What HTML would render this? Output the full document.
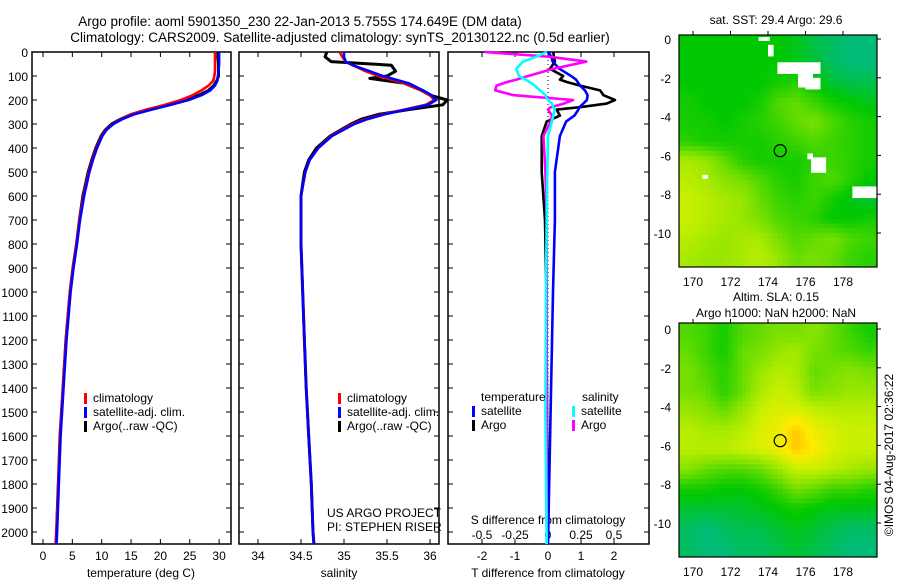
<!DOCTYPE html>
<html><head><meta charset="utf-8">
<style>
body{margin:0;background:#fff;}
svg{display:block;font-family:"Liberation Sans",sans-serif;}
</style></head>
<body>
<svg id="c" width="900" height="580" viewBox="0 0 900 580">
<text x="300" y="26" font-size="13.5" text-anchor="middle">Argo profile: aoml 5901350_230 22-Jan-2013 5.755S 174.649E (DM data)</text>
<text x="340" y="42" font-size="13.5" text-anchor="middle">Climatology: CARS2009. Satellite-adjusted climatology: synTS_20130122.nc (0.5d earlier)</text>
<text x="776" y="24" font-size="12" text-anchor="middle">sat. SST: 29.4 Argo: 29.6</text>
<text x="776" y="301" font-size="12" text-anchor="middle">Altim. SLA: 0.15</text>
<text x="776" y="317" font-size="12" text-anchor="middle">Argo h1000: NaN h2000: NaN</text>
<text transform="translate(893,455) rotate(-90)" font-size="12" text-anchor="middle">©IMOS 04-Aug-2017 02:36:22</text>
</svg>
<script>
// ---- Temperature profiles ----
const tDepth=[0,20,50,80,100,120,140,160,180,200,220,240,260,280,300,325,350,400,450,500,600,700,800,900,1000,1200,1400,1600,1800,2000,2050];
const tClim=[29.3,29.3,29.3,29.3,29.2,29.0,28.2,27.0,25.5,23.5,20.8,17.7,15.0,13.3,11.9,10.7,10.0,9.1,8.4,7.8,6.9,6.2,5.7,5.1,4.6,3.9,3.4,2.9,2.6,2.3,2.2];
const tSat=[30,30,30,29.9,29.8,29.7,29.3,28.5,27.0,24.8,21.8,18.5,15.5,13.5,12.0,10.8,10.1,9.2,8.5,7.9,7.0,6.3,5.8,5.2,4.7,4.0,3.5,3.0,2.7,2.4,2.3];
const tArgo=[29.8,29.8,29.9,29.9,29.9,29.6,29.1,28.2,26.6,24.3,21.2,17.8,15.0,13.2,11.7,10.6,9.9,9.0,8.3,7.7,6.8,6.2,5.7,5.1,4.6,3.9,3.4,2.9,2.6,2.3,2.2];
// ---- Salinity profiles ----
const sDepth=[0,20,40,55,80,100,110,130,160,180,200,220,240,260,280,300,350,400,450,500,600,700,800,1000,1200,1400,1600,1800,2000,2050];
const sClim=[34.95,34.98,35.02,35.1,35.25,35.4,35.5,35.7,35.9,36.0,36.05,35.95,35.7,35.45,35.25,35.1,34.85,34.7,34.6,34.55,34.5,34.5,34.5,34.52,34.54,34.56,34.59,34.62,34.64,34.65];
const sSat=[35.0,35.0,35.02,35.1,35.3,35.45,35.55,35.75,35.92,36.02,36.07,35.98,35.72,35.47,35.27,35.12,34.86,34.7,34.6,34.55,34.5,34.5,34.5,34.52,34.54,34.56,34.59,34.62,34.64,34.65];
const sArgo=[34.8,34.78,34.85,35.55,35.6,35.5,35.3,35.7,35.9,36.0,36.2,36.15,35.75,35.4,35.2,35.08,34.84,34.68,34.59,34.54,34.5,34.5,34.5,34.52,34.54,34.56,34.59,34.62,34.64,34.65];
// ---- Differences from climatology ----
const dDepth=[0,20,40,70,100,115,125,140,160,180,200,215,230,240,265,290,350,500,700,1000,1500,2050];
const dTSat=[0.01,0.1,0.14,0.35,0.7,0.85,0.9,0.97,1.12,1.2,1.18,1.07,0.95,0.92,0.8,0.55,0.36,0.21,0.21,0.15,0.08,0.0];
const dTArgo=[0.16,0.18,0.21,0.06,0.46,0.36,0.57,0.97,1.58,1.68,2.03,1.78,0.97,0.26,0.36,-0.04,-0.19,-0.19,-0.09,-0.05,-0.03,-0.02];
const dSSat=[-0.01,-0.09,-0.19,-0.24,-0.22,-0.17,-0.14,-0.1,-0.06,-0.02,0,0.03,0.04,0.05,0.04,0.03,0,-0.005,-0.01,-0.015,-0.02,-0.01];
const dSArgo=[-0.48,0.015,0.29,0.04,-0.15,-0.24,-0.31,-0.39,-0.4,-0.26,0.19,0.12,0.02,0.0,0.03,0.02,-0.035,-0.02,-0.01,-0.01,-0.01,-0.01];
// ---- Axis ticks ----
const depthTicks=[0,100,200,300,400,500,600,700,800,900,1000,1100,1200,1300,1400,1500,1600,1700,1800,1900,2000];
const tTicks=[0,5,10,15,20,25,30];
const sTicks=[34,34.5,35,35.5,36];
const sTickLabels=["34","34.5","35","35.5","36"];
const dTTicks=[-2,-1,0,1,2];
const dSTicks=[-0.5,-0.25,0,0.25,0.5];
const dSTickLabels=["-0.5","-0.25","0","0.25","0.5"];
const latTicks=[0,-2,-4,-6,-8,-10];
const lonTicks=[170,172,174,176,178];
// ---- Map grids (0=teal .. 1=yellow .. 1.2 orange) ----
const sstGrid=[
[.3,.3,.3,.3,.3,.3,.25,.15,.1,.05,.05],
[.3,.3,.3,.3,.3,.3,.25,.2,.1,.05,.05],
[.3,.3,.3,.3,.3,.35,.4,.3,.2,.15,.15],
[.35,.3,.3,.3,.35,.5,.55,.45,.35,.3,.25],
[.35,.35,.3,.35,.4,.45,.55,.6,.5,.4,.35],
[.4,.35,.35,.35,.35,.4,.45,.5,.45,.4,.35],
[.75,.7,.55,.4,.35,.35,.35,.4,.45,.4,.35],
[.8,.75,.65,.6,.5,.4,.35,.45,.5,.4,.3],
[.85,.8,.75,.7,.55,.45,.4,.45,.35,.25,.2],
[.85,.8,.75,.7,.6,.5,.45,.4,.3,.3,.35],
[.8,.75,.7,.75,.75,.6,.5,.55,.6,.5,.45],
[.75,.7,.7,.75,.8,.7,.55,.6,.55,.45,.4]];
const slaGrid=[
[.5,.45,.35,.5,.55,.6,.6,.65,.55,.45,.35],
[.55,.45,.35,.55,.6,.7,.75,.6,.55,.5,.45],
[.6,.5,.4,.55,.7,.8,.75,.55,.6,.65,.6],
[.6,.55,.4,.55,.75,.85,.8,.6,.65,.7,.7],
[.7,.65,.55,.7,.85,.9,.9,.85,.8,.8,.8],
[.8,.75,.75,.8,.9,.95,1.08,.95,.9,.85,.85],
[.8,.8,.8,.85,.9,.95,1.08,1.0,.9,.85,.85],
[.65,.55,.5,.5,.55,.7,.85,.85,.8,.75,.7],
[.35,.35,.3,.3,.35,.45,.6,.55,.45,.45,.4],
[.2,.2,.2,.2,.25,.3,.35,.3,.25,.25,.25],
[.1,.05,.1,.15,.15,.2,.25,.2,.15,.1,.1],
[.1,.05,.05,.1,.1,.15,.2,.15,.1,.05,.05]];
const argoLon=174.649, argoLat=-5.755;

const NS="http://www.w3.org/2000/svg";
const svg=document.getElementById('c');
function mk(tag,attrs,parent){const e=document.createElementNS(NS,tag);for(const k in attrs)e.setAttribute(k,attrs[k]);(parent||svg).appendChild(e);return e;}
function txt(x,y,s,size,anchor,parent){const e=mk('text',{x:x,y:y,'font-size':size,'text-anchor':anchor||'middle'},parent);e.textContent=s;return e;}

const yD=d=>52+d*0.24;
function panel(name,x0,x1){
  const g=mk('g',{});
  
  
  mk('rect',{x:x0,y:52,width:x1-x0,height:492,fill:'none',stroke:'#000','stroke-width':1.5},g);
  depthTicks.forEach(d=>{const y=yD(d);mk('line',{x1:x0,x2:x0+5,y1:y,y2:y,stroke:'#000'},g);mk('line',{x1:x1-5,x2:x1,y1:y,y2:y,stroke:'#000'},g);});
  return g;
}
function line(g,xs,ds,fx,color,name,w){
  const p=mk('polyline',{fill:'none',stroke:color,'stroke-width':w||2.6,'stroke-linejoin':'round',points:xs.map((v,i)=>fx(v).toFixed(1)+','+yD(ds[i]).toFixed(1)).join(' ')},g);
  
  
}
function legend(g,x,y,items){
  items.forEach((it,i)=>{const yy=y+i*14;mk('rect',{x:x,y:yy-9,width:3,height:11,fill:it[0]},g);txt(x+9,yy,it[1],12,'start',g);});
}
const dl=mk('g',{});


depthTicks.forEach(d=>txt(28,yD(d)+5,String(d),12,'end',dl));

const xT=v=>43+v*5.87;
const p1=panel('temperature-panel',32,231);
tTicks.forEach(v=>{const x=xT(v);mk('line',{x1:x,x2:x,y1:52,y2:57,stroke:'#000'},p1);mk('line',{x1:x,x2:x,y1:539,y2:544,stroke:'#000'},p1);txt(x,560,String(v),12,'middle',p1);});
txt(141,577,'temperature (deg C)',12,'middle',p1);
line(p1,tArgo,tDepth,xT,'#000','temperature-argo-line',3);
line(p1,tClim,tDepth,xT,'#f00','temperature-climatology-line');
line(p1,tSat,tDepth,xT,'#00f','temperature-satellite-line');
legend(p1,84,402,[['#f00','climatology'],['#00f','satellite-adj. clim.'],['#000','Argo(..raw -QC)']]);

const xS=v=>258+(v-34)*86;
const p2=panel('salinity-panel',239,439);
sTicks.forEach((v,i)=>{const x=xS(v);mk('line',{x1:x,x2:x,y1:52,y2:57,stroke:'#000'},p2);mk('line',{x1:x,x2:x,y1:539,y2:544,stroke:'#000'},p2);txt(x,560,sTickLabels[i],12,'middle',p2);});
txt(339,577,'salinity',12,'middle',p2);
line(p2,sArgo,sDepth,xS,'#000','salinity-argo-line',3);
line(p2,sClim,sDepth,xS,'#f00','salinity-climatology-line');
line(p2,sSat,sDepth,xS,'#00f','salinity-satellite-line');
legend(p2,338,402,[['#f00','climatology'],['#00f','satellite-adj. clim.'],['#000','Argo(..raw -QC)']]);
txt(327,517,'US ARGO PROJECT',12,'start',p2);
txt(327,531,'PI: STEPHEN RISER',12,'start',p2);

const xDT=v=>548+v*33;
const xDS=v=>548+v*132;
const p3=panel('difference-panel',448,649);
mk('line',{x1:548,x2:548,y1:52,y2:544,stroke:'#000','stroke-dasharray':'1,3'},p3);
dTTicks.forEach(v=>{const x=xDT(v);mk('line',{x1:x,x2:x,y1:539,y2:544,stroke:'#000'},p3);mk('line',{x1:x,x2:x,y1:52,y2:57,stroke:'#000'},p3);txt(x,560,String(v),12,'middle',p3);});
dSTicks.forEach((v,i)=>{txt(xDS(v),539,dSTickLabels[i],12,'middle',p3);});
txt(548,524,'S difference from climatology',12,'middle',p3);
txt(548,577,'T difference from climatology',12,'middle',p3);
line(p3,dTArgo,dDepth,xDT,'#000','t-diff-argo-line');
line(p3,dTSat,dDepth,xDT,'#00f','t-diff-satellite-line');
line(p3,dSArgo,dDepth,xDS,'#f0f','s-diff-argo-line');
line(p3,dSSat,dDepth,xDS,'#0ff','s-diff-satellite-line');
txt(481,401,'temperature',12,'start',p3);
txt(582,401,'salinity',12,'start',p3);
legend(p3,472,415,[['#00f','satellite'],['#000','Argo']]);
legend(p3,572,415,[['#0ff','satellite'],['#f0f','Argo']]);

function cmap(v){
  const stops=[[0,[0,184,144]],[0.3,[0,200,0]],[0.6,[120,224,0]],[0.85,[200,240,0]],[1.0,[255,235,0]],[1.1,[255,190,0]]];
  for(let i=1;i<stops.length;i++){if(v<=stops[i][0]){const a=stops[i-1],b=stops[i],t=(v-a[0])/(b[0]-a[0]);return 'rgb('+a[1].map((c,j)=>Math.round(c+(b[1][j]-c)*t)).join(',')+')';}}
  return 'rgb(255,190,0)';
}
function sample(grid,fr,fc){
  const R=grid.length-1,C=grid[0].length-1;
  fr=Math.max(0,Math.min(R,fr));fc=Math.max(0,Math.min(C,fc));
  const r0=Math.floor(fr),c0=Math.floor(fc),r1=Math.min(R,r0+1),c1=Math.min(C,c0+1),tr=fr-r0,tc=fc-c0;
  return grid[r0][c0]*(1-tr)*(1-tc)+grid[r0][c1]*(1-tr)*tc+grid[r1][c0]*tr*(1-tc)+grid[r1][c1]*tr*tc;
}
function mapPanel(name,grid,top,bottom,lat0y,whites){
  const g=mk('g',{});
  
  
  const L=679,R=877;
  const xL=lon=>693+(lon-170)*18.75;
  const yL=lat=>lat0y-lat*19.4;
  const rows=grid.length,cols=grid[0].length,sub=4;
  const NR=rows*sub,NC=cols*sub,cw=(R-L)/NC,ch=(bottom-top)/NR;
  for(let r=0;r<NR;r++)for(let c=0;c<NC;c++){
    const v=sample(grid,(r+0.5)/sub-0.5,(c+0.5)/sub-0.5);
    mk('rect',{x:(L+c*cw).toFixed(2),y:(top+r*ch).toFixed(2),width:(cw+0.5).toFixed(2),height:(ch+0.5).toFixed(2),fill:cmap(v)},g);
  }
  (whites||[]).forEach(w=>mk('rect',{x:xL(w[0]),y:yL(w[1]),width:w[2]*18.75,height:w[3]*19.4,fill:'#fff'},g));
  mk('rect',{x:L,y:top,width:R-L,height:bottom-top,fill:'none',stroke:'#000','stroke-width':1.2},g);
  latTicks.forEach(v=>{const y=yL(v);mk('line',{x1:R,x2:R+4,y1:y,y2:y,stroke:'#000'},g);txt(671,y+5,String(v),12,'end',g);});
  lonTicks.forEach(v=>{const x=xL(v);mk('line',{x1:x,x2:x,y1:top-4,y2:top,stroke:'#000'},g);txt(x,bottom+19,String(v),12,'middle',g);});
  const m=mk('circle',{cx:xL(argoLon),cy:yL(argoLat),r:6,fill:'none',stroke:'#000','stroke-width':1.2},g);
  
  
}
mapPanel('sst-map',sstGrid,35,267,39,[[173.5,0.1,0.6,0.2],[174.0,-0.3,0.3,0.6],[174.5,-1.2,2.3,0.6],[175.6,-1.7,0.8,0.8],[176.0,-2.0,0.8,0.6],[176.1,-5.9,0.3,0.3],[176.3,-6.1,0.8,0.8],[170.5,-7.0,0.3,0.2],[178.5,-7.6,1.3,0.6]]);
mapPanel('sla-map',slaGrid,323,557,329,[]);
</script>
</body></html>
